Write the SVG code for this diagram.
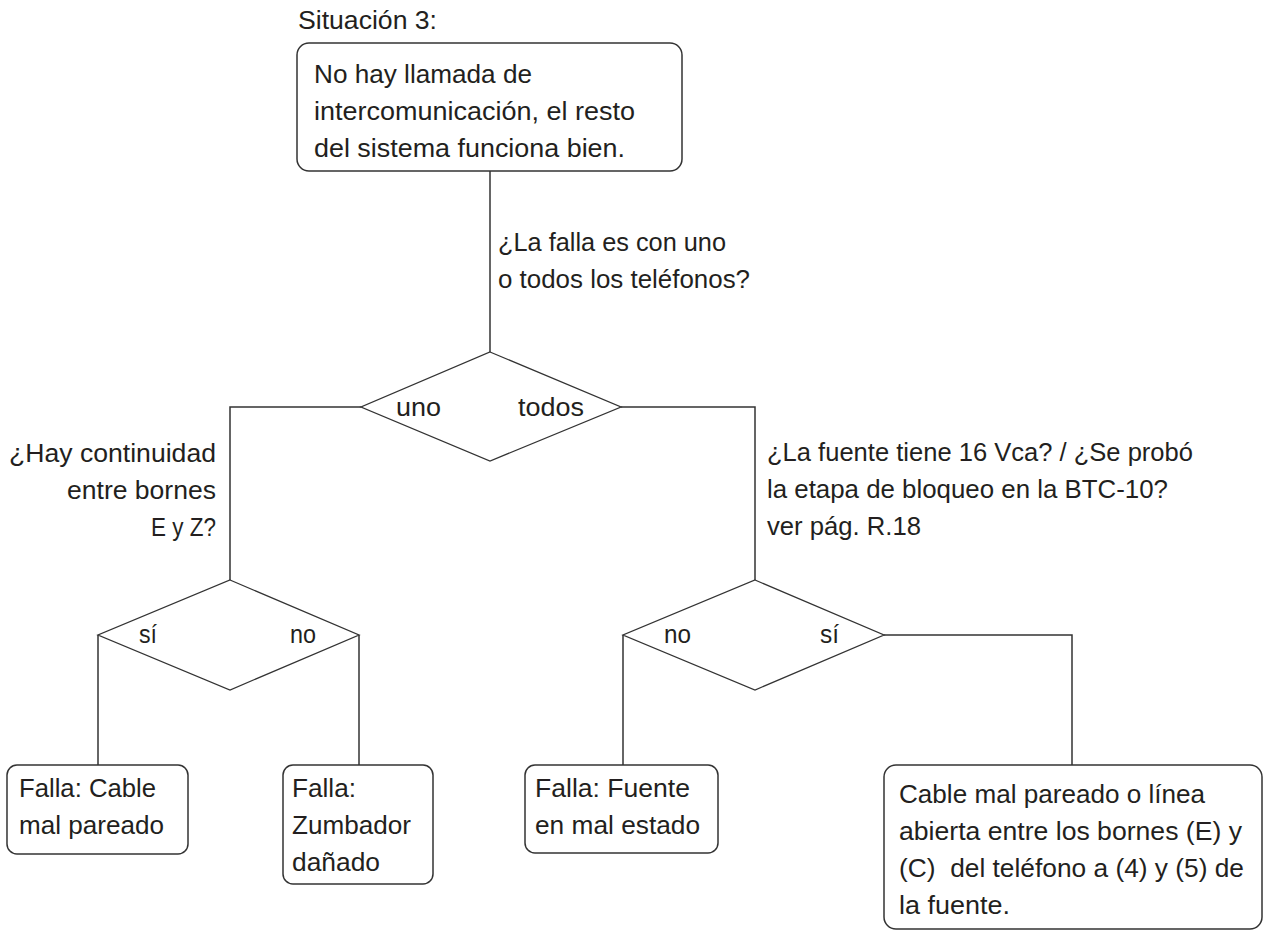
<svg xmlns="http://www.w3.org/2000/svg" width="1264" height="931" viewBox="0 0 1264 931">
<style>
.t{font-family:"Liberation Sans",Arial,sans-serif;font-size:25px;fill:#231f20;}
.r{text-anchor:end;}
.box{fill:#fff;stroke:#333;stroke-width:1.5;}
.dia{fill:#fff;stroke:#333;stroke-width:1.3;}
.ln{fill:none;stroke:#333;stroke-width:1.5;}
</style>
<rect width="1264" height="931" fill="#fff"/>
<text class="t" x="298" y="29" textLength="139" lengthAdjust="spacingAndGlyphs">Situación 3:</text>
<g id="connectors">
<path class="ln" d="M490,171 V352"/>
<path class="ln" d="M361,407 H230 V580"/>
<path class="ln" d="M621,407 H755 V580"/>
<path class="ln" d="M98,635 V765"/>
<path class="ln" d="M359,635 V765"/>
<path class="ln" d="M623,635 V765"/>
<path class="ln" d="M884,635 H1072 V765"/>
<text class="t" x="498" y="251" textLength="228" lengthAdjust="spacingAndGlyphs">¿La falla es con uno</text>
<text class="t" x="498" y="288" textLength="252" lengthAdjust="spacingAndGlyphs">o todos los teléfonos?</text>
<text class="t r" x="216" y="462" textLength="207" lengthAdjust="spacingAndGlyphs">¿Hay continuidad</text>
<text class="t r" x="216" y="499" textLength="149" lengthAdjust="spacingAndGlyphs">entre bornes</text>
<text class="t r" x="216" y="536" textLength="65" lengthAdjust="spacingAndGlyphs">E y Z?</text>
<text class="t" x="767" y="461" textLength="426" lengthAdjust="spacingAndGlyphs">¿La fuente tiene 16 Vca? / ¿Se probó</text>
<text class="t" x="767" y="498" textLength="401" lengthAdjust="spacingAndGlyphs">la etapa de bloqueo en la BTC-10?</text>
<text class="t" x="767" y="535" textLength="154" lengthAdjust="spacingAndGlyphs">ver pág. R.18</text>
</g>
<g id="start">
<rect class="box" x="297" y="43" width="385" height="128" rx="12"/>
<text class="t" x="314" y="83" textLength="218" lengthAdjust="spacingAndGlyphs">No hay llamada de</text>
<text class="t" x="314" y="120" textLength="321" lengthAdjust="spacingAndGlyphs">intercomunicación, el resto</text>
<text class="t" x="314" y="157" textLength="311" lengthAdjust="spacingAndGlyphs">del sistema funciona bien.</text>
</g>
<g id="decision1">
<polygon class="dia" points="490,352 621,407 490,461 361,407"/>
<text class="t" x="396" y="416" textLength="45" lengthAdjust="spacingAndGlyphs">uno</text>
<text class="t" x="518" y="416" textLength="66" lengthAdjust="spacingAndGlyphs">todos</text>
</g>
<g id="decision2">
<polygon class="dia" points="230,580 359,635 230,690 98,635"/>
<text class="t" x="139" y="643" textLength="18" lengthAdjust="spacingAndGlyphs">sí</text>
<text class="t" x="290" y="643" textLength="26" lengthAdjust="spacingAndGlyphs">no</text>
</g>
<g id="decision3">
<polygon class="dia" points="755,580 884,635 755,690 623,635"/>
<text class="t" x="664" y="643" textLength="27" lengthAdjust="spacingAndGlyphs">no</text>
<text class="t" x="820" y="643" textLength="19" lengthAdjust="spacingAndGlyphs">sí</text>
</g>
<g id="result1">
<rect class="box" x="7" y="765" width="181" height="89" rx="10"/>
<text class="t" x="19" y="797" textLength="137" lengthAdjust="spacingAndGlyphs">Falla: Cable</text>
<text class="t" x="19" y="834" textLength="145" lengthAdjust="spacingAndGlyphs">mal pareado</text>
</g>
<g id="result2">
<rect class="box" x="283" y="765" width="150" height="119" rx="10"/>
<text class="t" x="292" y="797" textLength="64" lengthAdjust="spacingAndGlyphs">Falla:</text>
<text class="t" x="292" y="834" textLength="119" lengthAdjust="spacingAndGlyphs">Zumbador</text>
<text class="t" x="292" y="871" textLength="88" lengthAdjust="spacingAndGlyphs">dañado</text>
</g>
<g id="result3">
<rect class="box" x="525" y="765" width="193" height="88" rx="10"/>
<text class="t" x="535" y="797" textLength="155" lengthAdjust="spacingAndGlyphs">Falla: Fuente</text>
<text class="t" x="535" y="834" textLength="165" lengthAdjust="spacingAndGlyphs">en mal estado</text>
</g>
<g id="result4">
<rect class="box" x="884" y="765" width="378" height="164" rx="12"/>
<text class="t" x="899" y="803" textLength="306" lengthAdjust="spacingAndGlyphs">Cable mal pareado o línea</text>
<text class="t" x="899" y="840" textLength="343" lengthAdjust="spacingAndGlyphs">abierta entre los bornes (E) y</text>
<text class="t" x="899" y="877" textLength="345" lengthAdjust="spacingAndGlyphs" xml:space="preserve">(C)  del teléfono a (4) y (5) de</text>
<text class="t" x="899" y="914" textLength="111" lengthAdjust="spacingAndGlyphs">la fuente.</text>
</g>
</svg>
